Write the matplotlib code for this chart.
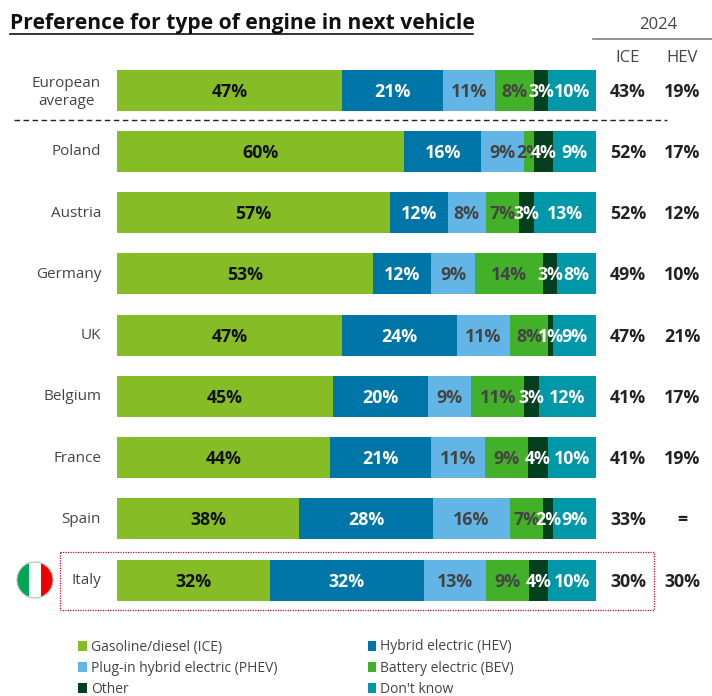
import matplotlib
matplotlib.use("Agg")
import matplotlib.pyplot as plt
from matplotlib.patches import Rectangle, Circle
from matplotlib.transforms import ScaledTranslation
import numpy as np

plt.rcParams['font.family'] = ['Open Sans', 'DejaVu Sans']

countries = ["European\naverage", "Poland", "Austria", "Germany", "UK", "Belgium", "France", "Spain", "Italy"]
series = ["Gasoline/diesel (ICE)", "Hybrid electric (HEV)", "Plug-in hybrid electric (PHEV)",
          "Battery electric (BEV)", "Other", "Don't know"]
ice =   [47, 60, 57, 53, 47, 45, 44, 38, 32]
hev =   [21, 16, 12, 12, 24, 20, 21, 28, 32]
phev =  [11, 9, 8, 9, 11, 9, 11, 16, 13]
bev =   [8, 2, 7, 14, 8, 11, 9, 7, 9]
other = [3, 4, 3, 3, 1, 3, 4, 2, 4]
dk =    [10, 9, 13, 8, 9, 12, 10, 9, 10]
ice_2024 = ["43%", "52%", "52%", "49%", "47%", "41%", "41%", "33%", "30%"]
hev_2024 = ["19%", "17%", "12%", "10%", "21%", "17%", "19%", "=", "30%"]

colors = ["#86BC25", "#0076A8", "#62B5E5", "#43B02A", "#043F1F", "#0097A9"]
label_colors = ["#111111", "#FFFFFF", "#444444", "#444444", "#FFFFFF", "#FFFFFF"]

W, H = 712, 696
fig = plt.figure(figsize=(W / 100, H / 100), dpi=100, facecolor="white")

# pixel overlay
ov = fig.add_axes([0, 0, 1, 1], zorder=1)
ov.set_xlim(0, W); ov.set_ylim(H, 0); ov.axis("off")

# bars axis: x 117..596 px, rows 61.25 px apart, first centre at y=90
x0, x1 = 117, 596
top, step = 59.4, 61.25
bottom = top + step * len(countries)
ax = fig.add_axes([x0 / W, 1 - bottom / H, (x1 - x0) / W, (bottom - top) / H], zorder=2)
ax.patch.set_alpha(0)
ax.set_xlim(0, 100)
ax.set_ylim(len(countries) - 0.5, -0.5)
for s in ax.spines.values():
    s.set_visible(False)
ax.set_xticks([])
y = np.arange(len(countries))
ax.set_yticks(y)
ax.set_yticklabels(countries, fontsize=11, color="#444444", multialignment="center", linespacing=1.35)
ax.tick_params(axis="y", length=0, pad=11.5)
up = ScaledTranslation(0, 1 / 72, fig.dpi_scale_trans)
for t in ax.get_yticklabels():
    t.set_transform(t.get_transform() + up)

data = np.array([ice, hev, phev, bev, other, dk], dtype=float)
norm = data / data.sum(axis=0) * 100
left = np.zeros(len(countries))
handles = []
down = ScaledTranslation(0, -1.5 / 100, fig.dpi_scale_trans)
for vals, shown, name, c, lc in zip(norm, data, series, colors, label_colors):
    bars = ax.barh(y, vals, left=left, height=41 / step, color=c, label=name, edgecolor="none")
    handles.append(bars)
    for yi, l, v, s in zip(y, left, vals, shown):
        ax.text(l + v / 2, yi, f"{int(s)}%", ha="center", va="center", fontsize=12.8,
                fontweight="bold", color=lc, zorder=5, transform=ax.transData + down)
    left += vals

# right-hand table
for i, (a, b) in enumerate(zip(ice_2024, hev_2024)):
    yc = top + step * (i + 0.5) + 1.5
    ov.text(628, yc, a, ha="center", va="center", fontsize=12.8, fontweight="bold", color="#222222")
    ov.text(682, yc, b, ha="center", va="center", fontsize=12.8, fontweight="bold", color="#222222")
ov.text(658, 25, "2024", ha="center", va="center", fontsize=12, color="#444444")
ov.plot([593, 712], [39, 39], color="#808080", lw=1.2)
ov.text(628, 58, "ICE", ha="center", va="center", fontsize=12, color="#444444")
ov.text(682, 58, "HEV", ha="center", va="center", fontsize=12, color="#444444")

# title
ov.text(10, 24, "Preference for type of engine in next vehicle", ha="left", va="center",
        fontsize=15.1, fontweight="bold", color="#111111")
ov.plot([10, 473], [33.5, 33.5], color="#111111", lw=1.2)

# separators / highlight
ov.plot([14, 667], [120, 120], color="#222222", lw=1, dashes=(4, 2.5))
ov.add_patch(Rectangle((59.5, 551.5), 594, 58, fill=False, edgecolor="#C8102E", lw=0.9, ls=(0, (1, 1))))

# Italian flag
clip = Circle((35, 580), 18, transform=ov.transData)
for xs, w, c in [(17, 12, "#00A651"), (29, 12, "#FFFFFF"), (41, 12, "#F00000")]:
    r = Rectangle((xs, 562), w, 36, facecolor=c, edgecolor="none")
    ov.add_patch(r)
    r.set_clip_path(clip)
ov.add_patch(Circle((35, 580), 18, fill=False, edgecolor="#BBBBBB", lw=0.8))

# legend: filled column-wise
order = [0, 2, 4, 1, 3, 5]
leg = fig.legend([handles[i] for i in order], [series[i] for i in order], ncols=2,
                 loc="upper left", bbox_to_anchor=(78 / W, 1 - 639.5 / H), frameon=False,
                 fontsize=10, labelcolor="#444444", handlelength=0.62, handleheight=0.7,
                 handletextpad=0.3, labelspacing=0.45, columnspacing=6.5,
                 borderpad=0, borderaxespad=0)

fig.savefig("out.png", dpi=100)
